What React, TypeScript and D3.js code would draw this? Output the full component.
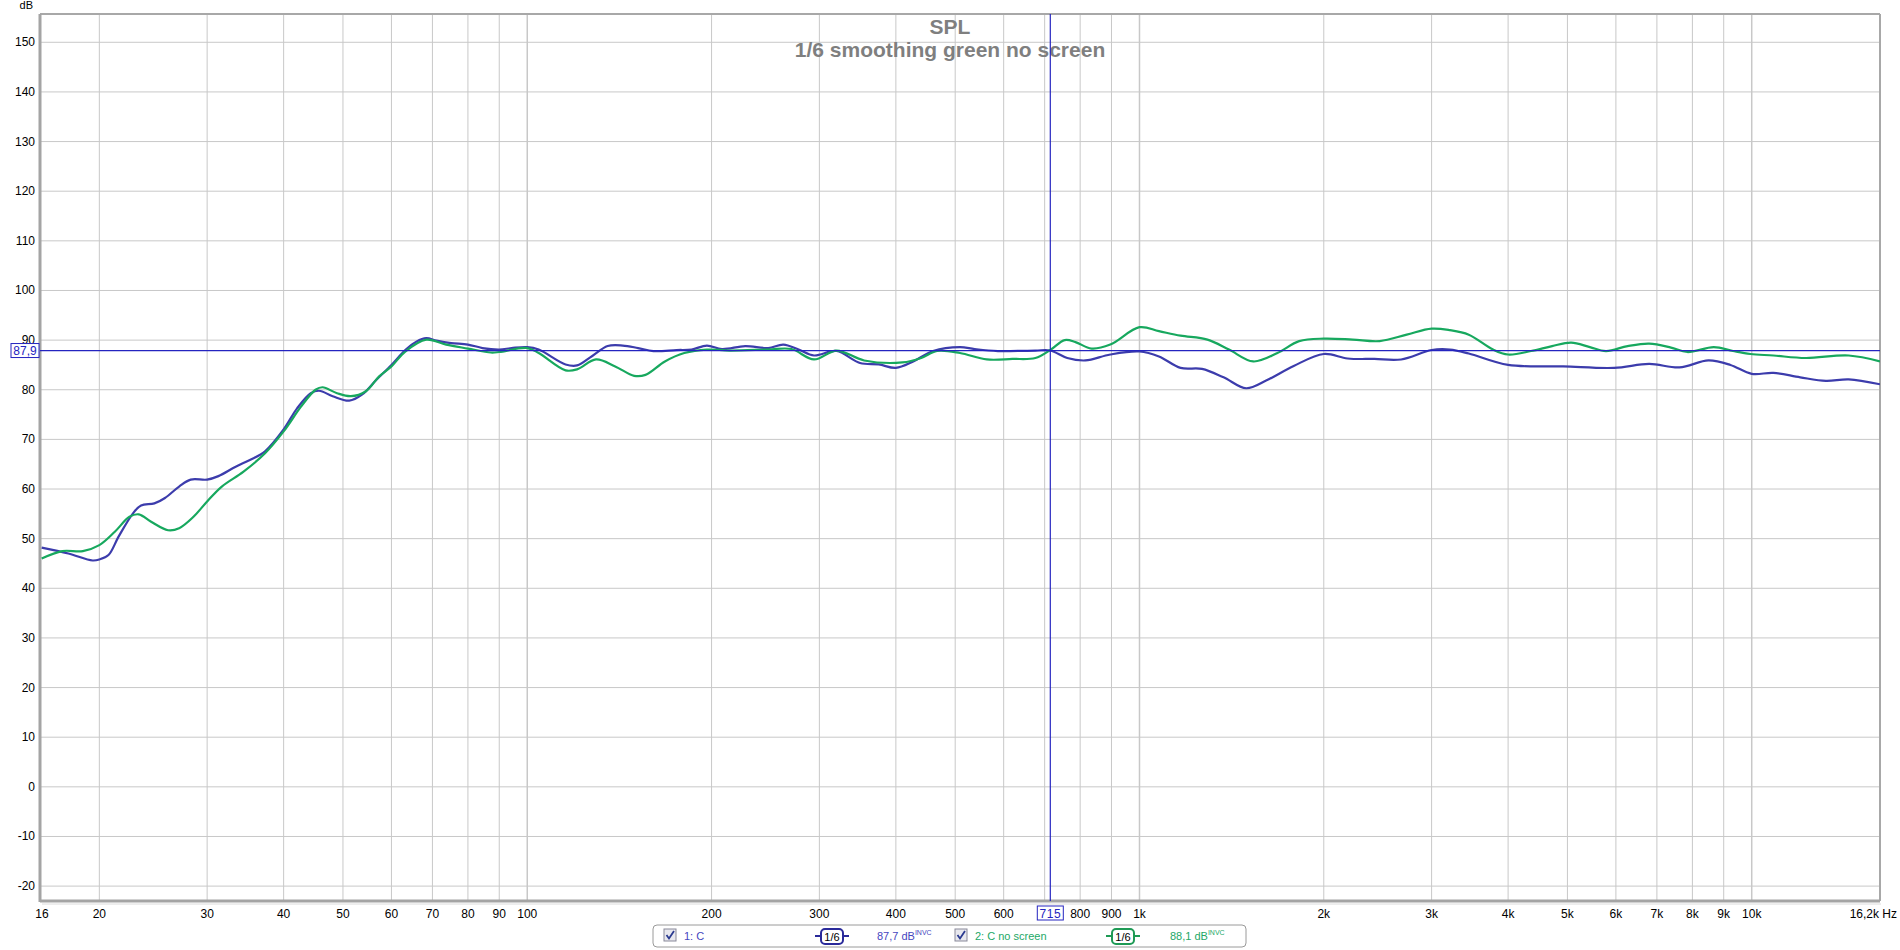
import React from "react";
import * as d3 from "d3";

// series 1: "C" (blue)
const blueFreq = [16.1, 17.8, 19.5, 20, 20.7, 21.5, 22.7, 23.4, 24.6, 25.6, 27, 28.2, 30, 31.3, 33.4, 35.3, 37.3, 40, 42.1, 44.3, 45.7, 48.1, 51.2, 53.7, 56.7, 60, 63.2, 65.9, 68.4, 71.1, 75.1, 80, 84.5, 90, 94.3, 100, 104.4, 115.5, 120.6, 127.7, 135.3, 143.2, 151.7, 160.7, 175.3, 185.5, 196.5, 208, 227, 247.5, 262, 277.5, 294, 320, 349.5, 375, 400, 427, 460, 509, 538, 587, 676, 715, 762, 816, 896, 1000, 1076, 1167, 1265, 1372, 1494, 1613, 1786, 2000, 2187, 2420, 2675, 3000, 3213, 3450, 4000, 4920, 5960, 6800, 7620, 8500, 9230, 10000, 10850, 12000, 13220, 14400, 16200];
const blueDb = [48.2, 47, 45.6, 45.8, 46.7, 50.4, 55.1, 56.7, 57.1, 58.2, 60.5, 61.9, 61.9, 62.6, 64.5, 65.9, 67.6, 72, 76.3, 79.3, 79.8, 78.7, 77.8, 79, 82, 85, 88, 89.7, 90.4, 89.9, 89.4, 89.1, 88.4, 88.1, 88.4, 88.6, 88.1, 85.1, 84.9, 86.8, 88.8, 88.9, 88.4, 87.8, 88, 88.1, 88.9, 88.2, 88.8, 88.4, 89.1, 88.1, 86.9, 87.8, 85.4, 85.1, 84.4, 85.7, 87.8, 88.6, 88.2, 87.8, 87.9, 87.9, 86.4, 85.9, 87.1, 87.7, 86.7, 84.4, 84.2, 82.5, 80.3, 81.9, 84.8, 87.2, 86.3, 86.2, 86.1, 88, 88.1, 87.3, 85, 84.7, 84.4, 85.2, 84.5, 85.9, 85, 83.2, 83.4, 82.5, 81.8, 82.1, 81.1];

// series 2: "C no screen" (green)
const greenFreq = [16.1, 17.4, 18.8, 20, 21.2, 22.4, 23.2, 24.3, 25.9, 27, 28.5, 30, 31.7, 34.4, 37.3, 40, 42.7, 45.1, 46.3, 48.9, 51.5, 54.5, 57.3, 60, 63.2, 68.4, 73.7, 80, 87.2, 90, 100, 104.4, 115.5, 120.6, 129.5, 139.2, 149.5, 156, 167.8, 180.5, 196.5, 214, 247.5, 270, 294, 320, 355, 410, 440, 467, 509, 563, 620, 676, 715, 755, 786, 835, 896, 1000, 1076, 1167, 1291, 1400, 1534, 1680, 1823, 2000, 2229, 2468, 2732, 3000, 3213, 3450, 3780, 4000, 4360, 4720, 5070, 5440, 5780, 6270, 6800, 7380, 7850, 8670, 9320, 9950, 10850, 12250, 14400, 16200];
const greenDb = [46, 47.5, 47.5, 48.7, 51.4, 54.4, 54.9, 53.4, 51.7, 52.1, 54.4, 57.5, 60.5, 63.5, 67.2, 71.6, 76.6, 80, 80.5, 79.3, 78.7, 79.7, 82.7, 84.7, 87.7, 90.1, 89.1, 88.3, 87.5, 87.6, 88.4, 87.4, 83.9, 84.1, 86.1, 84.7, 82.8, 83, 85.7, 87.4, 88.1, 87.9, 88.1, 88.2, 86.1, 87.9, 85.9, 85.5, 86.4, 87.8, 87.4, 86.1, 86.2, 86.4, 88, 90, 89.6, 88.3, 89.1, 92.6, 91.8, 90.9, 90.1, 88.1, 85.7, 87.4, 89.8, 90.3, 90.1, 89.8, 91.1, 92.3, 92, 91.1, 88.1, 87.1, 87.8, 88.8, 89.5, 88.6, 87.8, 88.8, 89.3, 88.5, 87.6, 88.6, 87.8, 87.2, 86.9, 86.4, 86.9, 85.7];

const xGrid = [20, 30, 40, 50, 60, 70, 80, 90, 100, 200, 300, 400, 500, 600, 700, 800, 900, 1000, 2000, 3000, 4000, 5000, 6000, 7000, 8000, 9000, 10000];
// "700" is hidden behind the cursor readout, as in the original
const xTickLabels = ["20", "30", "40", "50", "60", "70", "80", "90", "100", "200", "300", "400", "500", "600", "", "800", "900", "1k", "2k", "3k", "4k", "5k", "6k", "7k", "8k", "9k", "10k"];
const yTicks = [150, 140, 130, 120, 110, 100, 90, 80, 70, 60, 50, 40, 30, 20, 10, 0, -10, -20];

const cursorFreq = 715;
const cursorDb = 87.9;

const W = 1900;
const H = 950;
const L = 40, R = 1880, T = 14, B = 901;
const BLUE = "#3c3cac";
const GREEN = "#17a85e";
const CURSOR = "#2424c0";
const FONT = "'Liberation Sans', Arial, sans-serif";

export default function App() {
  const x = d3.scaleLog().domain([16, 16200]).range([L, R]);
  const y = d3.scaleLinear().domain([-23, 155.7]).range([B, T]);

  const line = d3
    .line<[number, number]>()
    .x((d) => x(d[0]))
    .y((d) => y(d[1]))
    .curve(d3.curveCatmullRom.alpha(0.5));

  const blue = blueFreq.map((f, i) => [f, blueDb[i]] as [number, number]);
  const green = greenFreq.map((f, i) => [f, greenDb[i]] as [number, number]);

  const cx = x(cursorFreq);
  const cy = y(cursorDb);

  const fracIcon = (x0: number, color: string) => (
    <g>
      <line x1={x0} x2={x0 + 34} y1={936} y2={936} stroke={color} strokeWidth={2} />
      <rect x={x0 + 6} y={929} width={22} height={15} rx={4} fill="#fff" stroke={color} strokeWidth={2} />
      <text x={x0 + 17} y={941} textAnchor="middle" fontSize={11} fill="#000" fontFamily={FONT}>
        1/6
      </text>
    </g>
  );

  const checkbox = (x0: number) => (
    <g>
      <rect x={x0} y={929} width={12} height={12} fill="#e8e8ee" stroke="#8a8a9a" strokeWidth={1} />
      <path d={`M${x0 + 2.5},${935} L${x0 + 5},${938.5} L${x0 + 10},${931}`} fill="none" stroke="#2a3a90" strokeWidth={1.8} />
    </g>
  );

  return (
    <svg width={W} height={H} style={{ position: "absolute", left: 0, top: 0, background: "#fff" }} fontFamily={FONT}>
      <defs>
        <clipPath id="plot">
          <rect x={L} y={T} width={R - L} height={B - T} />
        </clipPath>
      </defs>
      <rect x={0} y={0} width={W} height={H} fill="#fff" />

      {/* grid */}
      {yTicks.map((v) => (
        <line key={"h" + v} x1={L} x2={R} y1={y(v)} y2={y(v)} stroke="#c8c8c8" strokeWidth={1} />
      ))}
      {xGrid.map((f) => (
        <line key={"v" + f} x1={x(f)} x2={x(f)} y1={T} y2={B} stroke="#c8c8c8" strokeWidth={f === 100 || f === 1000 || f === 10000 ? 1.5 : 1} />
      ))}

      {/* frame */}
      <line x1={L} x2={R} y1={T} y2={T} stroke="#a8a8a8" strokeWidth={2} />
      <line x1={R} x2={R} y1={T} y2={B} stroke="#a8a8a8" strokeWidth={2} />
      <line x1={L} x2={L} y1={T} y2={B + 1} stroke="#a4a4a4" strokeWidth={3} />
      <line x1={L} x2={R} y1={B} y2={B} stroke="#a4a4a4" strokeWidth={3} />
      <line x1={L + 2} x2={R + 1} y1={B + 3} y2={B + 3} stroke="#dcdcdc" strokeWidth={1} />

      {/* title */}
      <text x={950} y={34} textAnchor="middle" fontSize={21} fontWeight="bold" fill="#7f7f7f">
        SPL
      </text>
      <text x={950} y={57} textAnchor="middle" fontSize={21} fontWeight="bold" fill="#7f7f7f">
        1/6 smoothing green no screen
      </text>

      {/* curves */}
      <g clipPath="url(#plot)">
        <path d={line(blue) || ""} fill="none" stroke={BLUE} strokeWidth={2.2} />
        <path d={line(green) || ""} fill="none" stroke={GREEN} strokeWidth={2.2} />
        <line x1={cx} x2={cx} y1={T} y2={B} stroke={CURSOR} strokeWidth={1.2} />
        <line x1={L} x2={R} y1={cy} y2={cy} stroke={CURSOR} strokeWidth={1.2} />
      </g>

      {/* y axis */}
      <text x={33} y={9} textAnchor="end" fontSize={11} fill="#000">
        dB
      </text>
      {yTicks.map((v) => (
        <text key={"yl" + v} x={35} y={y(v) + 4} textAnchor="end" fontSize={12} fill="#000">
          {v}
        </text>
      ))}

      {/* x axis */}
      <text x={x(16) + 2} y={918} textAnchor="middle" fontSize={12} fill="#000">
        16
      </text>
      {xGrid.map((f, i) =>
        xTickLabels[i] ? (
          <text key={"xl" + f} x={x(f)} y={918} textAnchor="middle" fontSize={12} fill="#000">
            {xTickLabels[i]}
          </text>
        ) : null
      )}
      <text x={1897} y={918} textAnchor="end" fontSize={12} fill="#000">
        16,2k Hz
      </text>

      {/* cursor labels */}
      <rect x={cx - 13} y={906} width={26} height={14} fill="#fff" stroke={CURSOR} strokeWidth={1} />
      <text x={cx} y={917.5} textAnchor="middle" fontSize={12} fill={CURSOR} letterSpacing={0.5}>
        {String(cursorFreq)}
      </text>
      <rect x={11} y={cy - 7} width={28} height={14} fill="#fff" stroke={CURSOR} strokeWidth={1} />
      <text x={25} y={cy + 4.5} textAnchor="middle" fontSize={12} fill={CURSOR}>
        {cursorDb.toFixed(1).replace(".", ",")}
      </text>

      {/* legend */}
      <rect x={653} y={925} width={593} height={22} rx={4} fill="#fff" stroke="#9a9a9a" strokeWidth={1} />
      {checkbox(664)}
      <text x={684} y={940} fontSize={11} fill="#4646c0">
        1: C
      </text>
      {fracIcon(815, "#2a2a9a")}
      <text x={877} y={940} fontSize={11} fill="#4646c0">
        87,7 dB
        <tspan fontSize={7} dy={-5}>INVC</tspan>
      </text>
      {checkbox(955)}
      <text x={975} y={940} fontSize={11} fill="#22a866">
        2: C no screen
      </text>
      {fracIcon(1106, "#1e9a55")}
      <text x={1170} y={940} fontSize={11} fill="#22a866">
        88,1 dB
        <tspan fontSize={7} dy={-5}>INVC</tspan>
      </text>
    </svg>
  );
}
